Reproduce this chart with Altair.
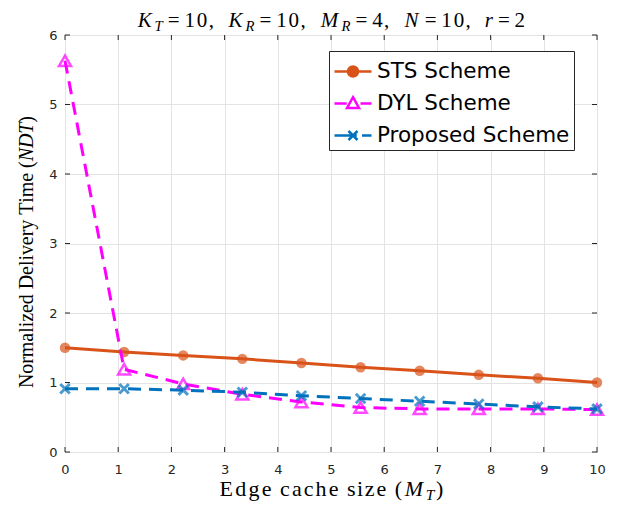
import altair as alt
import pandas as pd

# ---------------- data ----------------
cache_size = [0, 1.111, 2.222, 3.333, 4.444, 5.556, 6.667, 7.778, 8.889, 10]
sts = [1.50, 1.44, 1.39, 1.34, 1.28, 1.22, 1.17, 1.11, 1.06, 1.00]
dyl = [5.63, 1.19, 0.98, 0.83, 0.72, 0.64, 0.62, 0.62, 0.62, 0.61]
proposed = [0.91, 0.91, 0.89, 0.86, 0.81, 0.77, 0.73, 0.69, 0.65, 0.62]
series_names = ["STS Scheme", "DYL Scheme", "Proposed Scheme"]
series_colors = ["#D95319", "#FF00FF", "#0072BD"]
x_ticks = list(range(0, 11))
y_ticks = list(range(0, 7))

W, H = 532, 417

rows = []
for name, vals in zip(series_names, [sts, dyl, proposed]):
    for xv, yv in zip(cache_size, vals):
        rows.append({"x": xv, "y": yv, "series": name})
df = pd.DataFrame(rows)

xscale = alt.Scale(domain=[0, 10], nice=False, zero=False)
yscale = alt.Scale(domain=[0, 6], nice=False, zero=False)
X = alt.X("x:Q", scale=xscale, axis=alt.Axis(values=x_ticks, title=None, labelFlush=False))
Y = alt.Y("y:Q", scale=yscale, axis=alt.Axis(values=y_ticks, title=None, labelFlush=False))

base = alt.Chart(df)


def sel(name):
    return base.transform_filter(alt.datum.series == name)


sts_line = sel("STS Scheme").mark_line(color=series_colors[0], strokeWidth=3).encode(x=X, y=Y)
sts_pts = sel("STS Scheme").mark_point(shape="circle", filled=True, size=110, color=series_colors[0]).encode(x=X, y=Y)
dyl_line = sel("DYL Scheme").mark_line(color=series_colors[1], strokeWidth=3, strokeDash=[13, 8]).encode(x=X, y=Y)
dyl_pts = sel("DYL Scheme").mark_point(shape="triangle-up", filled=False, size=144, strokeWidth=2.5,
                                       color=series_colors[1]).encode(x=X, y=Y)
pro_line = sel("Proposed Scheme").mark_line(color=series_colors[2], strokeWidth=3, strokeDash=[13, 8]).encode(x=X, y=Y)
pro_pts = sel("Proposed Scheme").mark_point(shape="M-1,-1L1,1M-1,1L1,-1", filled=False, size=90, strokeWidth=3,
                                            color=series_colors[2]).encode(x=X, y=Y)

# legend (invisible layer that only carries the legend)
legend_shapes = [
    "M-1.233,0H1.233M-0.333,0A0.333,0.333 0 1,0 0.333,0A0.333,0.333 0 1,0 -0.333,0Z",
    "M-1.233,0H-0.42M0.5,0H1.233M0,-0.42L0.4,0.3L-0.4,0.3Z",
    "M-1.233,0H0.25M-0.3,-0.3L0.3,0.3M-0.3,0.3L0.3,-0.3M0.6,0H1.233",
]
leg = alt.Legend(title=None, orient="none", legendX=264, legendY=16)
legend_layer = base.mark_point(opacity=0, strokeWidth=2.5).encode(
    x=X, y=Y,
    stroke=alt.Stroke("series:N", scale=alt.Scale(domain=series_names, range=series_colors), legend=leg),
    fill=alt.Fill("series:N", scale=alt.Scale(domain=series_names,
                                              range=[series_colors[0], "transparent", "transparent"]), legend=leg),
    shape=alt.Shape("series:N", scale=alt.Scale(domain=series_names, range=legend_shapes), legend=leg),
)

# inward ticks (box style)
xt = alt.Chart(pd.DataFrame({"x": x_ticks}))
yt = alt.Chart(pd.DataFrame({"y": y_ticks}))
tick_color = "#262626"
ticks = [
    xt.mark_rule(color=tick_color).encode(x=X, y=alt.value(H), y2=alt.value(H - 5)),
    xt.mark_rule(color=tick_color).encode(x=X, y=alt.value(0), y2=alt.value(5)),
    yt.mark_rule(color=tick_color).encode(y=Y, x=alt.value(0), x2=alt.value(5)),
    yt.mark_rule(color=tick_color).encode(y=Y, x=alt.value(W), x2=alt.value(W - 5)),
]

# ---------------- LaTeX-like titles ----------------
# Times-like advance widths (em)
TR = {' ': .25, '(': .333, ')': .333, ',': .25, '=': .564, '0': .5, '1': .5, '2': .5, '4': .5,
      'D': .722, 'E': .611, 'N': .722, 'T': .611, 'a': .444, 'c': .444, 'd': .5, 'e': .444, 'g': .5,
      'h': .5, 'i': .278, 'l': .278, 'm': .778, 'o': .5, 'r': .333, 's': .389, 'v': .5, 'y': .5,
      'z': .444}
TI = {'D': .722, 'K': .667, 'M': .833, 'N': .667, 'R': .611, 'T': .556, 'r': .389}
# advances for the math-style title (relative units)
MATH = {'K': 17, 'T': 10, 'R': 11, 'M': 21, 'N': 18, 'r': 10, '=': 19, '0': 12, '1': 12, '2': 12,
        '4': 12, ',': 6, ' ': 12}


def glyph_table(runs, size, span, cx, cy, vertical=False, math=False):
    items, pos = [], 0.0
    for s, it, sub in runs:
        for ch in s:
            fs = size * 0.7 if sub else size
            if math:
                w = MATH[ch]
            else:
                w = (TI if it else TR)[ch] * fs
            if ch != ' ':
                items.append((ch, it, fs, pos + w / 2, sub))
            pos += w
    k = span / pos
    out = []
    for ch, it, fs, c, sub in items:
        off = (c - pos / 2) * k
        shift = size * 0.2 if sub else 0
        if vertical:
            px, py = cx + shift, cy - off
        else:
            px, py = cx + off, cy + shift
        out.append({"t": ch, "it": it, "fs": fs, "px": px, "py": py})
    return pd.DataFrame(out)


def text_layers(tbl, angle=0):
    layers = []
    for it in (False, True):
        sub = tbl[tbl["it"] == it]
        if len(sub) == 0:
            continue
        layers.append(
            alt.Chart(sub).mark_text(font="Liberation Serif", fontStyle="italic" if it else "normal",
                                     align="center", baseline="alphabetic", color="#000000", angle=angle)
            .encode(x=alt.X("px:Q", scale=None, axis=None), y=alt.Y("py:Q", scale=None, axis=None),
                    text="t:N", size=alt.Size("fs:Q", scale=None, legend=None))
        )
    return layers


title_runs = [("K", True, False), ("T", True, True), ("=10, ", False, False),
              ("K", True, False), ("R", True, True), ("=10, ", False, False),
              ("M", True, False), ("R", True, True), ("=4, ", False, False),
              ("N", True, False), ("=10, ", False, False),
              ("r", True, False), ("=2", False, False)]
xtitle_runs = [("Edge cache size (", False, False), ("M", True, False), ("T", True, True), (")", False, False)]
ytitle_runs = [("Normalized Delivery Time (", False, False), ("NDT", True, False), (")", False, False)]

t_title = glyph_table(title_runs, 21, 390, W / 2, -8, math=True)
t_x = glyph_table(xtitle_runs, 22, 226, W / 2, H + 44)
t_y = glyph_table(ytitle_runs, 20, 272, -32, 217, vertical=True)

layers = ticks + [sts_line, sts_pts, dyl_line, dyl_pts, pro_line, pro_pts, legend_layer] \
    + text_layers(t_title) + text_layers(t_x) + text_layers(t_y, angle=270)

chart = alt.layer(*layers).properties(
    width=W, height=H,
    autosize=alt.AutoSizeParams(type="none"),
    padding={"left": 57, "top": 27, "right": 19, "bottom": 52},
    background="white",
).configure_view(
    stroke="#262626", strokeWidth=1
).configure_axis(
    labelFont="DejaVu Sans", labelFontSize=13, labelColor="#262626",
    domain=False, ticks=False, grid=True, gridColor="#E3E3E3", gridWidth=1,
).configure_axisX(labelPadding=11).configure_axisY(labelPadding=8).configure_legend(
    fillColor="white", strokeColor="#262626", strokeWidth=1, padding=4, cornerRadius=0,
    symbolSize=900, symbolStrokeWidth=2.5, symbolOffset=3.5, labelOffset=7.5, rowPadding=5,
    labelFont="DejaVu Sans", labelFontSize=21.5, labelColor="#000000", symbolOpacity=1, labelLimit=400,
)

chart.save("out.html", embed_options={"renderer": "svg", "actions": False})
